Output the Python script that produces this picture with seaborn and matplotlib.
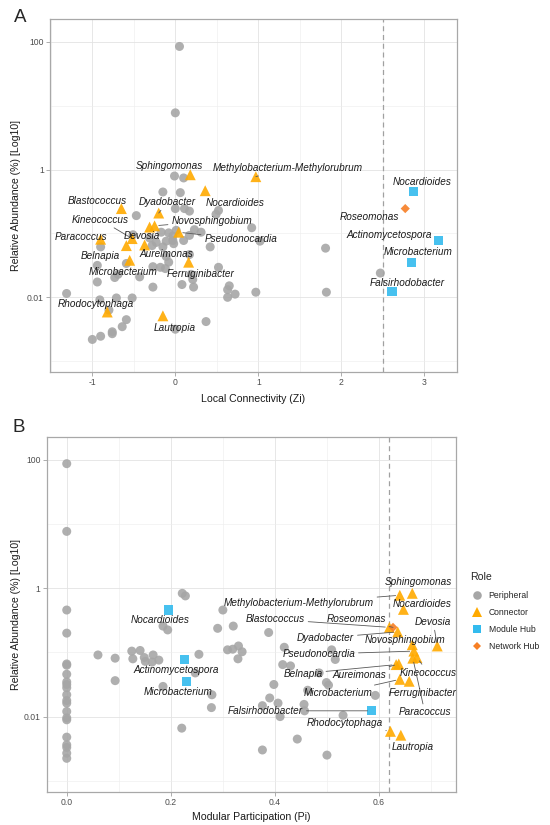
"""
Zi / Pi role plot of genus nodes against relative abundance (two panels).
"""

import matplotlib
matplotlib.use("Agg")
import numpy as np
import pandas as pd
import matplotlib.pyplot as plt
import seaborn as sns
from matplotlib.lines import Line2D
from matplotlib.ticker import FixedLocator, NullFormatter

# labelled nodes (shared by both panels)
node_names = [
    "Sphingomonas", "Methylobacterium-Methylorubrum", "Nocardioides", "Blastococcus",
    "Dyadobacter", "Kineococcus", "Novosphingobium", "Devosia", "Pseudonocardia",
    "Paracoccus", "Belnapia", "Aureimonas", "Microbacterium", "Ferruginibacter",
    "Rhodocytophaga", "Lautropia", "Nocardioides", "Actinomycetospora",
    "Microbacterium", "Falsirhodobacter", "Roseomonas",
]
node_roles = ["Connector"] * 16 + ["Module Hub"] * 4 + ["Network Hub"]
node_zi = [0.18, 0.97, 0.36, -0.65, -0.20, -0.52, -0.25, -0.31, 0.04, -0.90, -0.59,
           -0.37, -0.55, 0.16, -0.82, -0.15, 2.87, 3.17, 2.85, 2.61, 2.77]
node_pi = [0.664, 0.640, 0.647, 0.620, 0.636, 0.673, 0.664, 0.712, 0.667, 0.665, 0.633,
           0.638, 0.640, 0.658, 0.622, 0.642, 0.195, 0.226, 0.230, 0.586, 0.627]
node_log10 = [-0.08, -0.11, -0.33, -0.61, -0.68, -1.08, -0.88, -0.90, -0.98, -1.09, -1.19,
              -1.18, -1.42, -1.45, -2.23, -2.29, -0.34, -1.11, -1.45, -1.91, -0.61]

# peripheral nodes
peri_a_zi = [0.05, 0.0, -0.01, 0.10, -0.15, 0.06, -0.47, 0.0, 0.11, 0.17, 0.49, 0.52,
             0.92, 1.02, 0.23, 0.31, -0.51, -0.17, -0.08, 0.01, -0.03, -0.02, -0.23,
             -0.15, -0.28, -0.31, -0.90, 0.10, 0.17, 0.42, 0.17, -0.11, -0.59, -0.94,
             -0.27, -0.18, -0.12, -0.08, -0.73, -0.69, -0.43, 0.52, 0.19, -0.94, -0.27,
             0.08, 0.22, -1.31, -0.91, -0.71, -0.52, 0.65, 0.63, 0.63, 0.72, 0.97,
             -0.80, -0.59, -0.64, -0.76, -0.76, -0.90, -1.00, 0.37, 0.0, 1.81, 2.47,
             1.82, -0.11, -0.03, 0.21]
peri_a_log10 = [1.93, 0.89, -0.10, -0.13, -0.35, -0.36, -0.72, -0.61, -0.61, -0.65,
                -0.70, -0.64, -0.91, -1.12, -0.94, -0.98, -1.02, -0.98, -0.99, -0.95,
                -1.11, -1.16, -1.14, -1.21, -1.19, -1.07, -1.21, -1.11, -1.03, -1.21,
                -1.33, -1.36, -1.47, -1.50, -1.52, -1.53, -1.55, -1.45, -1.69, -1.64,
                -1.68, -1.53, -1.64, -1.76, -1.84, -1.80, -1.84, -1.94, -2.04, -2.01,
                -2.01, -1.82, -1.88, -2.00, -1.95, -1.92, -2.20, -2.35, -2.46, -2.54,
                -2.57, -2.61, -2.66, -2.38, -2.50, -1.23, -1.62, -1.92, -1.12, -1.04,
                -1.72]

# peripheral nodes
peri_b_pi = [0.0] * 21 + [
    0.222, 0.228, 0.300, 0.185, 0.194, 0.290, 0.320, 0.388, 0.418, 0.060, 0.093,
    0.093, 0.125, 0.127, 0.141, 0.149, 0.151, 0.166, 0.164, 0.177, 0.185, 0.254,
    0.247, 0.279, 0.278, 0.221, 0.309, 0.319, 0.330, 0.337, 0.329, 0.415, 0.430,
    0.398, 0.390, 0.406, 0.376, 0.410, 0.376, 0.443, 0.509, 0.516, 0.485, 0.463,
    0.499, 0.503, 0.456, 0.457, 0.531, 0.593, 0.500]
peri_b_log10 = [
    1.94, 0.885, -0.34, -0.70, -1.18, -1.20, -1.34, -1.46, -1.50, -1.55, -1.66,
    -1.75, -1.79, -1.92, -2.02, -2.05, -2.32, -2.44, -2.48, -2.57, -2.65,
    -0.08, -0.12, -0.34, -0.59, -0.65, -0.625, -0.59, -0.69, -0.92, -1.04, -1.09,
    -1.44, -0.98, -1.10, -0.97, -1.08, -1.14, -1.04, -1.15, -1.12, -1.53, -1.03,
    -1.32, -1.66, -1.86, -2.18, -0.96, -0.95, -0.90, -0.99, -1.10, -1.19, -1.21,
    -1.50, -1.71, -1.79, -1.83, -2.00, -2.52, -2.35, -0.96, -1.11, -1.32, -1.59,
    -1.47, -1.51, -1.81, -1.91, -1.98, -1.67, -2.60]

roles = ["Peripheral", "Connector", "Module Hub", "Network Hub"]

# label placement (pixel offsets from the point, ggrepel-like)
label_off_a = [(-21, 9), (32, 9), (30, -12), (-24, 8), (9, 11), (-32, 19), (57, 5),
               (-8, -9), (62, -7), (-20, 2), (-26, -10), (22, -9), (-7, -12), (12, -12),
               (-11, 8), (12, -12), (9, 9), (-49, 6), (6, 10), (15, 9), (-36, -8)]
label_off_b = [(6, 11), (-101, -8), (19, 5), (-114, 8), (-72, -6), (11, -15), (-7, 5),
               (-4, 24), (-95, -3), (12, -54), (-93, -9), (-39, -11), (-62, -14), (13, -12),
               (-46, 8), (12, -12), (-8, -10), (-8, -11), (-8, -11), (-106, 0), (-37, 8)]
seg_a = {1, 4, 5, 6, 8}
seg_b = {1, 3, 4, 5, 7, 8, 9, 10, 11, 12, 14, 19, 20}

palette = {"Peripheral": "#A6A6A6", "Connector": "#FFAA00",
           "Module Hub": "#33BBEE", "Network Hub": "#F77F25"}
markers = {"Peripheral": "o", "Connector": "^", "Module Hub": "s", "Network Hub": "D"}
sizes = {"Peripheral": 42, "Connector": 62, "Module Hub": 44, "Network Hub": 22}

sns.set_theme(style="white")
plt.rcParams["font.family"] = ["Liberation Sans", "DejaVu Sans"]

W, H = 550, 825


def make_frame(xs, logs, names, node_x):
    peri = pd.DataFrame({"x": xs, "log10": logs, "role": "Peripheral", "name": ""})
    lab = pd.DataFrame({"x": node_x, "log10": node_log10, "role": node_roles,
                        "name": node_names})
    df = pd.concat([peri, lab], ignore_index=True)
    df["abund"] = 10.0 ** df["log10"]
    return df


def style_axes(ax, xlim, xmajor, xminor, xlabels):
    ax.set_yscale("log")
    ax.set_xlim(*xlim)
    ax.set_ylim(10 ** -3.17, 10 ** 2.36)
    ax.xaxis.set_major_locator(FixedLocator(xmajor))
    ax.set_xticklabels(xlabels)
    ax.xaxis.set_minor_locator(FixedLocator(xminor))
    ax.yaxis.set_major_locator(FixedLocator([0.01, 1, 100]))
    ax.set_yticklabels(["0.01", "1", "100"])
    ax.yaxis.set_minor_locator(FixedLocator([0.001, 0.1, 10]))
    ax.yaxis.set_minor_formatter(NullFormatter())
    ax.grid(True, which="major", color="#E3E3E3", lw=0.6)
    ax.grid(True, which="minor", color="#EDEDED", lw=0.4)
    ax.set_axisbelow(True)
    ax.tick_params(which="major", length=3, width=0.6, color="#A0A0A0",
                   labelsize=6.2, labelcolor="#4D4D4D", pad=1.5,
                   bottom=True, left=True)
    ax.tick_params(which="minor", length=0)
    for sp in ax.spines.values():
        sp.set_color("#A8A8A8")
        sp.set_linewidth(0.9)


def draw_panel(ax, df, offsets, segs, vline, xlabel):
    ax.axvline(vline, color="#A0A0A0", ls=(0, (4, 3)), lw=0.9, zorder=1)
    sns.scatterplot(data=df, x="x", y="abund", hue="role", style="role", size="role",
                    hue_order=roles, style_order=roles, size_order=roles,
                    palette=palette, markers=markers, sizes=sizes,
                    linewidth=0, alpha=0.9, legend=False, ax=ax, zorder=3)
    lab = df[df["name"] != ""].reset_index(drop=True)
    for i, row in lab.iterrows():
        arrow = None
        if i in segs:
            arrow = dict(arrowstyle="-", color="#595959", lw=0.6,
                         shrinkA=0, shrinkB=3)
        ax.annotate(row["name"], xy=(row["x"], row["abund"]), xytext=offsets[i],
                    textcoords="offset pixels", ha="center", va="center",
                    fontsize=7.2, fontstyle="italic", color="#1A1A1A",
                    arrowprops=arrow, zorder=4)
    ax.set_xlabel(xlabel, fontsize=7.6, color="#1A1A1A")
    ax.set_ylabel("Relative Abundance (%) [Log10]", fontsize=7.6, color="#1A1A1A")


fig = plt.figure(figsize=(W / 100, H / 100), dpi=100)
ax_a = fig.add_axes([50 / W, 1 - 372 / H, 406.7 / W, 353 / H])
ax_b = fig.add_axes([46.7 / W, 1 - 791.7 / H, 409.3 / W, 355 / H])

df_a = make_frame(peri_a_zi, peri_a_log10, node_names, node_zi)
draw_panel(ax_a, df_a, label_off_a, seg_a, 2.5, "Local Connectivity (Zi)")
style_axes(ax_a, (-1.51, 3.39), [-1, 0, 1, 2, 3], [-1.5, -0.5, 0.5, 1.5, 2.5, 3.5],
           ["-1", "0", "1", "2", "3"])
ax_a.xaxis.set_label_coords(0.5, -0.062)
ax_a.yaxis.set_label_coords(-29 / 406.7, 0.5)

df_b = make_frame(peri_b_pi, peri_b_log10, node_names, node_pi)
draw_panel(ax_b, df_b, label_off_b, seg_b, 0.62, "Modular Participation (Pi)")
style_axes(ax_b, (-0.0385, 0.748), [0.0, 0.2, 0.4, 0.6], [0.1, 0.3, 0.5, 0.7],
           ["0.0", "0.2", "0.4", "0.6"])
ax_b.xaxis.set_label_coords(0.5, -0.056)
ax_b.yaxis.set_label_coords(-26 / 409.3, 0.5)

fig.text(20 / W, 1 - 18 / H, "A", fontsize=13.5, ha="center", va="center")
fig.text(19 / W, 1 - 428 / H, "B", fontsize=13.5, ha="center", va="center")

handles = [Line2D([], [], ls="", marker=markers[r], color=palette[r],
                  markersize=np.sqrt(sizes[r]) * 0.95, markeredgewidth=0) for r in roles]
leg = fig.legend(handles, roles, loc="upper left", bbox_to_anchor=(467 / W, 1 - 569 / H),
                 frameon=False, title="Role", fontsize=6.2, title_fontsize=7.6,
                 handletextpad=0.6, labelspacing=0.95, borderaxespad=0,
                 alignment="left", handlelength=1.5)

fig.savefig("out.png", dpi=100)
